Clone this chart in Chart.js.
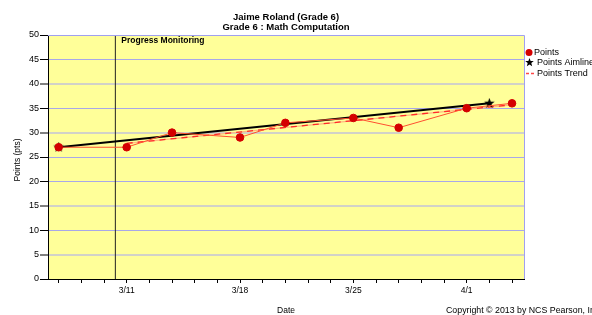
<!DOCTYPE html>
<html lang="en">
<head>
  <meta charset="UTF-8">
  <title>Jaime Roland (Grade 6)</title>
  <script src="https://cdn.jsdelivr.net/npm/chart.js"></script>
  <style>
    body { margin: 0; background: #fff; }
    #wrap { width: 592px; height: 315px; }
  </style>
</head>
<body>
  <div id="wrap"><canvas id="grafico" width="592" height="315"></canvas></div>

  <script>
    // days counted from the start of March (32 = 4/1)
    const dates = [6.8, 11, 13.8, 18, 20.8, 25, 27.8, 32, 34.8];
    const points = [27, 27, 30, 29, 32, 33, 31, 35, 36];
    const aimDates = [6.8, 33.4];
    const aimValues = [27, 36];
    const trendDates = [11, 34.8];
    const trendValues = [27.8, 35.7];
    const monitorDate = 10.3;
    const tickDays = [11, 18, 25, 32];
    const tickLabels = ['3/11', '3/18', '3/25', '4/1'];

    const FONT = 'Arial, "Liberation Sans", sans-serif';
    Chart.defaults.font.family = FONT;
    Chart.defaults.color = '#000';

    const toXY = (xs, ys) => xs.map((x, i) => ({ x: x, y: ys[i] }));

    // filled 5-point star for the aimline markers
    function makeStar(size) {
      const c = document.createElement('canvas');
      c.width = size; c.height = size;
      const g = c.getContext('2d');
      const cx = size / 2, cy = size / 2, R = size / 2, r = R * 0.42;
      g.beginPath();
      for (let i = 0; i < 10; i++) {
        const a = -Math.PI / 2 + i * Math.PI / 5;
        const rr = i % 2 ? r : R;
        g.lineTo(cx + rr * Math.cos(a), cy + rr * Math.sin(a));
      }
      g.closePath();
      g.fillStyle = '#000';
      g.fill();
      return c;
    }
    const star = makeStar(11);
    const legendStar = makeStar(9);

    const decor = {
      id: 'decor',
      beforeDraw(chart) {
        const { ctx, chartArea: a } = chart;
        ctx.save();
        ctx.fillStyle = '#ffff99';
        ctx.fillRect(a.left, a.top, a.right - a.left, a.bottom - a.top);
        ctx.restore();
      },
      afterDatasetsDraw(chart) {
        const { ctx, chartArea: a, scales } = chart;
        ctx.save();
        // top / right frame
        ctx.strokeStyle = '#a0a0f0';
        ctx.lineWidth = 1;
        ctx.beginPath();
        ctx.moveTo(a.left, a.top + 0.5);
        ctx.lineTo(a.right + 0.5, a.top + 0.5);
        ctx.lineTo(a.right + 0.5, a.bottom);
        ctx.stroke();

        ctx.fillStyle = '#000';
        ctx.font = 'bold 8.5px ' + FONT;
        ctx.textBaseline = 'middle';
        ctx.textAlign = 'left';
        ctx.fillText('Progress Monitoring', scales.x.getPixelForValue(monitorDate) + 6, 41);

        // titles
        ctx.textAlign = 'center';
        ctx.font = 'bold 9.5px ' + FONT;
        const mid = (a.left + a.right) / 2;
        ctx.fillText('Jaime Roland (Grade 6)', mid, 17);
        ctx.fillText('Grade 6 : Math Computation', mid, 27);

        ctx.font = '8.5px ' + FONT;
        ctx.fillText('Date', 286, 311);
        ctx.font = '8.8px ' + FONT;
        ctx.textAlign = 'left';
        ctx.fillText('Copyright \u00a9 2013 by NCS Pearson, Inc.', 446, 311);

        ctx.save();
        ctx.font = '8.5px ' + FONT;
        ctx.translate(18, 160);
        ctx.rotate(-Math.PI / 2);
        ctx.textAlign = 'center';
        ctx.fillText('Points (pts)', 0, 0);
        ctx.restore();

        // legend
        ctx.font = '9px ' + FONT;
        ctx.fillStyle = '#d40000';
        ctx.beginPath();
        ctx.arc(529, 52.5, 3.5, 0, Math.PI * 2);
        ctx.fill();
        ctx.fillStyle = '#000';
        ctx.fillText(chart.data.datasets[0].label, 534, 53);
        ctx.drawImage(legendStar, 525, 58);
        ctx.fillText(chart.data.datasets[1].label, 537, 63);
        ctx.strokeStyle = '#ff4848';
        ctx.lineWidth = 1.5;
        ctx.setLineDash([3, 2]);
        ctx.beginPath();
        ctx.moveTo(526, 73.5);
        ctx.lineTo(534, 73.5);
        ctx.stroke();
        ctx.setLineDash([]);
        ctx.fillText(chart.data.datasets[2].label, 537, 74);
        ctx.restore();
      }
    };

    const gridGray = [5, 15, 30, 40];

    new Chart(document.getElementById('grafico'), {
      type: 'line',
      data: {
        datasets: [
          {
            label: 'Points',
            data: toXY(dates, points),
            borderColor: '#ff5030',
            borderWidth: 1,
            pointBackgroundColor: '#d40000',
            pointBorderColor: '#d40000',
            pointRadius: 3.8,
            order: 0
          },
          {
            label: 'Points Aimline',
            data: toXY(aimDates, aimValues),
            borderColor: '#000',
            borderWidth: 2,
            pointStyle: star,
            order: 1
          },
          {
            label: 'Points Trend',
            data: toXY(trendDates, trendValues),
            borderColor: '#ff2a2a',
            borderWidth: 1.3,
            borderDash: [6, 5],
            pointRadius: 0,
            order: 2
          },
          {
            label: 'trend base',
            data: toXY(trendDates, trendValues),
            borderColor: '#ffb880',
            borderWidth: 1.3,
            pointRadius: 0,
            order: 3
          },
          {
            label: 'monitor',
            data: toXY([monitorDate, monitorDate], [0, 50]),
            borderColor: '#222',
            borderWidth: 1,
            pointRadius: 0,
            order: 4
          }
        ]
      },
      options: {
        responsive: false,
        animation: false,
        events: [],
        layout: { padding: { left: 0, top: 35, right: 68, bottom: 0 } },
        plugins: { legend: { display: false }, tooltip: { enabled: false } },
        scales: {
          x: {
            type: 'linear',
            min: 6.14,
            max: 35.54,
            afterFit(s) { s.height = 36; },
            afterBuildTicks(s) {
              const t = [];
              for (let i = 0; i <= 20; i++) t.push({ value: Math.round((6.8 + i * 1.4) * 10) / 10 });
              s.ticks = t;
            },
            ticks: {
              autoSkip: false,
              maxRotation: 0,
              padding: 3,
              font: { size: 8.5 },
              callback(v) {
                const k = tickDays.findIndex(d => Math.abs(d - v) < 0.01);
                return k >= 0 ? tickLabels[k] : '';
              }
            },
            grid: { drawOnChartArea: false, tickLength: 4, color: '#000' },
            border: { color: '#000', width: 1 }
          },
          y: {
            min: 0,
            max: 50,
            afterFit(s) { s.width = 48; },
            ticks: { stepSize: 5, padding: 1, font: { size: 9 } },
            grid: {
              tickLength: 8,
              color: c => c.tick && gridGray.includes(c.tick.value) ? '#d2d2c8' : '#a8a8e8',
              lineWidth: c => c.tick && gridGray.includes(c.tick.value) ? 2 : 1,
              tickColor: '#000',
              tickWidth: 1
            },
            border: { color: '#000', width: 1 }
          }
        }
      },
      plugins: [decor]
    });
  </script>
</body>
</html>
